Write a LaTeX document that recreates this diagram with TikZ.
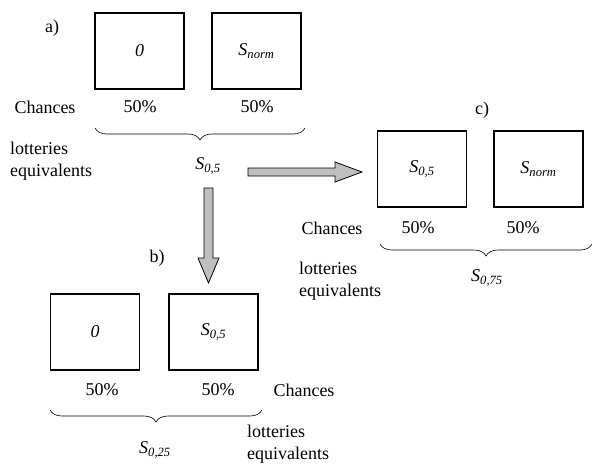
\documentclass[tikz,border=0pt]{standalone}
\usepackage{fontspec}
\setmainfont{Liberation Serif}
\usetikzlibrary{positioning, decorations.pathreplacing, calc}

\begin{document}
\begin{tikzpicture}[x=1pt, y=-1pt, font=\fontsize{18}{22}\selectfont,
    lot/.style={draw, line width=1.8pt, minimum width=89pt, minimum height=76pt, inner sep=0pt, font=\fontsize{18}{20}\selectfont\itshape},
    brc/.style={decorate, decoration={brace, mirror, amplitude=12pt}, line width=0.6pt},
    garrow/.style={draw=black, fill=gray!50, line width=0.8pt},
    leq/.style={anchor=north west, align=left, inner sep=0pt}]
\useasboundingbox (0,0) rectangle (592,466);

% a) the first lottery
\node (la) at (52,28) {a)};
\node[lot] (a0) at (139.5,51) {0};
\node[lot] (an) at (256.5,51) {S\textsubscript{norm}};
\node (cha) at (45,107) {Chances};
\node (pa0) at (140,107) {50\%};
\node (pan) at (257,107) {50\%};
\draw[brc] (95,128) -- (305,128);
\node[leq] (eqa) at (10,142) {lotteries\\equivalents};
\node[font=\fontsize{18}{20}\selectfont\itshape] (sa) at (208,166) {S\textsubscript{0,5}};

% c) the lottery of S0,5 and Snorm
\node (lc) at (482,110) {c)};
\node[lot] (c0) at (422,169) {S\textsubscript{0,5}};
\node[lot] (cn) at (538.5,169) {S\textsubscript{norm}};
\node (chc) at (332,228) {Chances};
\node (pc0) at (418,228) {50\%};
\node (pcn) at (523,228) {50\%};
\draw[brc] (380,244) -- (592,244);
\node[leq] (eqc) at (299,262) {lotteries\\equivalents};
\node[font=\fontsize{18}{20}\selectfont\itshape] (sc) at (487,278) {S\textsubscript{0,75}};

% b) the lottery of 0 and S0,5
\node (lb) at (157,258) {b)};
\node[lot] (b0) at (95,332) {0};
\node[lot] (bn) at (213.5,332) {S\textsubscript{0,5}};
\node (pb0) at (102,390) {50\%};
\node (pbn) at (218,390) {50\%};
\node (chb) at (304,390) {Chances};
\draw[brc] (50,410) -- (262,410);
\node[leq] (eqb) at (247,425) {lotteries\\equivalents};
\node[font=\fontsize{18}{20}\selectfont\itshape] (sb) at (155,450) {S\textsubscript{0,25}};

% block arrows
\coordinate (h0) at (248,172);
\coordinate (v0) at (208.5,188);
\draw[garrow] (h0) ++(0,-4) -- ++(87,0) -- ++(0,-6) -- ++(27,10) -- ++(-27,10) -- ++(0,-6) -- ++(-87,0) -- cycle;
\draw[garrow] (v0) ++(-4.5,0) -- ++(0,70) -- ++(-6,0) -- ++(10.5,25) -- ++(10.5,-25) -- ++(-6,0) -- ++(0,-70) -- cycle;
\end{tikzpicture}
\end{document}
